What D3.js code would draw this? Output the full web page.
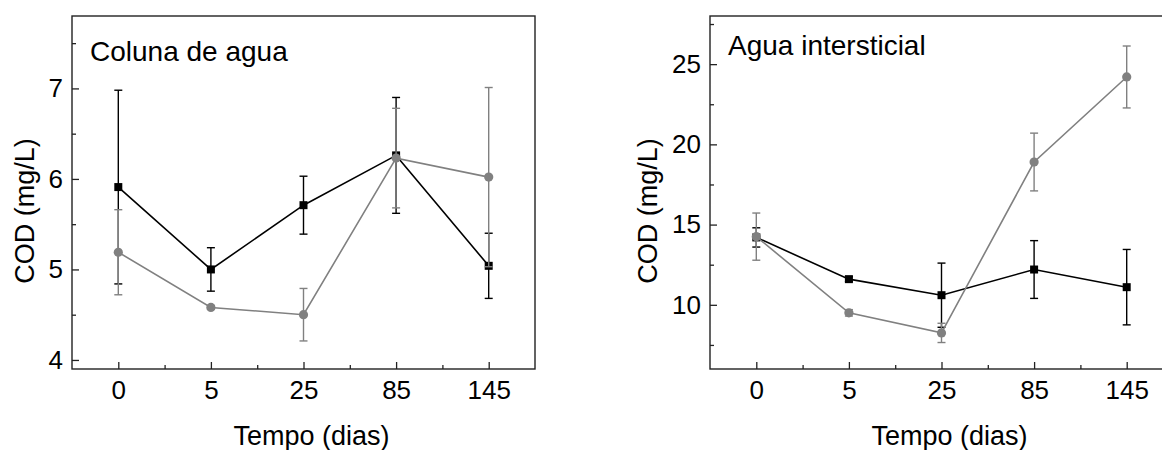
<!DOCTYPE html>
<html>
<head>
<meta charset="utf-8">
<script src="https://cdn.jsdelivr.net/npm/d3@7"></script>
<style>
  body { margin: 0; background: #fff; }
  svg { display: block; font-family: "Liberation Sans", Arial, sans-serif; }
</style>
</head>
<body>
<script>
// categories (days)
var days = ["0", "5", "25", "85", "145"];

// Coluna de agua
var colunaBlack    = [5.91, 5.00, 5.71, 6.26, 5.04];
var colunaBlackErr = [1.07, 0.24, 0.32, 0.64, 0.36];
var colunaGray     = [5.19, 4.58, 4.50, 6.23, 6.02];
var colunaGrayErr  = [0.47, 0.02, 0.29, 0.55, 0.99];

// Agua intersticial
var interBlack    = [14.2, 11.6, 10.6, 12.2, 11.1];
var interBlackErr = [0.6, 0.15, 2.0, 1.8, 2.35];
var interGray     = [14.25, 9.5, 8.25, 18.9, 24.2];
var interGrayErr  = [1.47, 0.2, 0.6, 1.8, 1.93];

// y ticks
var colunaTicks = [4, 5, 6, 7];
var colunaMinor = [4.5, 5.5, 6.5, 7.5];
var interTicks  = [10, 15, 20, 25];
var interMinor  = [7.5, 12.5, 17.5, 22.5, 27.5];

var W = 1162, H = 450;
var GRAY = "#808080";

var svg = d3.select("body").append("svg")
    .attr("width", W)
    .attr("height", H);

function panel(opt) {
    var g = svg.append("g");

    var x = d3.scaleLinear().domain([0.5, 5.5]).range([opt.left, opt.left + 463]);
    var y = d3.scaleLinear().domain(opt.ydom).range([369, 16]);
    var idx = d3.range(1, days.length + 1);

    // frame
    g.append("rect")
        .attr("x", x(0.5)).attr("y", y(opt.ydom[1]))
        .attr("width", x(5.5) - x(0.5)).attr("height", y(opt.ydom[0]) - y(opt.ydom[1]))
        .attr("fill", "none").attr("stroke", "#222").attr("stroke-width", 1.4);

    // axes, ticks pointing inwards
    g.append("g").attr("transform", "translate(0," + y(opt.ydom[0]) + ")")
        .call(d3.axisBottom(x).tickValues(idx).tickSize(-7).tickPadding(12)
            .tickFormat(function(d) { return days[d - 1]; }));
    g.append("g").attr("transform", "translate(0," + y(opt.ydom[0]) + ")")
        .call(d3.axisBottom(x).tickValues([1.5, 2.5, 3.5, 4.5]).tickSize(-4).tickFormat(""));
    g.append("g").attr("transform", "translate(" + x(0.5) + ",0)")
        .call(d3.axisLeft(y).tickValues(opt.ticks).tickSize(-7).tickPadding(9)
            .tickFormat(d3.format("d")));
    g.append("g").attr("transform", "translate(" + x(0.5) + ",0)")
        .call(d3.axisLeft(y).tickValues(opt.minor).tickSize(-4).tickFormat(""));

    g.selectAll(".domain").remove();
    g.selectAll(".tick line").attr("stroke", "#222").attr("stroke-width", 1.3);
    g.selectAll(".tick text").attr("fill", "#000").style("font-size", "26px");

    // axis titles
    g.append("text")
        .attr("x", x(3) + 8).attr("y", 445)
        .attr("text-anchor", "middle")
        .style("font-size", "27px")
        .text("Tempo (dias)");
    g.append("text")
        .attr("transform", "translate(" + opt.ylabX + ",211) rotate(-90)")
        .attr("text-anchor", "middle")
        .style("font-size", "27px")
        .text("COD (mg/L)");

    // panel title
    g.append("text")
        .attr("x", opt.left + opt.titleDx).attr("y", opt.titleY)
        .style("font-size", "28px")
        .text(opt.title);

    var line = d3.line()
        .x(function(d, i) { return x(i + 1); })
        .y(function(d) { return y(d); });

    function series(vals, errs, color, shape) {
        var s = g.append("g");
        s.append("path").datum(vals)
            .attr("d", line)
            .attr("fill", "none").attr("stroke", color).attr("stroke-width", 1.6);

        var eb = s.selectAll(".eb").data(vals).enter().append("g");
        eb.append("line")
            .attr("x1", function(d, i) { return x(i + 1); })
            .attr("x2", function(d, i) { return x(i + 1); })
            .attr("y1", function(d, i) { return y(d - errs[i]); })
            .attr("y2", function(d, i) { return y(d + errs[i]); })
            .attr("stroke", color).attr("stroke-width", 1.4);
        [-1, 1].forEach(function(sg) {
            eb.append("line")
                .attr("x1", function(d, i) { return x(i + 1) - 4; })
                .attr("x2", function(d, i) { return x(i + 1) + 4; })
                .attr("y1", function(d, i) { return y(d + sg * errs[i]); })
                .attr("y2", function(d, i) { return y(d + sg * errs[i]); })
                .attr("stroke", color).attr("stroke-width", 1.4);
        });

        if (shape == "square") {
            s.selectAll(".mk").data(vals).enter().append("rect")
                .attr("x", function(d, i) { return x(i + 1) - 4; })
                .attr("y", function(d) { return y(d) - 4; })
                .attr("width", 8).attr("height", 8)
                .attr("fill", color);
        } else {
            s.selectAll(".mk").data(vals).enter().append("circle")
                .attr("cx", function(d, i) { return x(i + 1); })
                .attr("cy", function(d) { return y(d); })
                .attr("r", 4.6)
                .attr("fill", color);
        }
    }

    series(opt.black, opt.blackErr, "#000", "square");
    series(opt.gray, opt.grayErr, GRAY, "circle");
}

panel({
    left: 72, ydom: [3.9, 7.8], ticks: colunaTicks, minor: colunaMinor,
    black: colunaBlack, blackErr: colunaBlackErr,
    gray: colunaGray, grayErr: colunaGrayErr,
    title: "Coluna de agua", titleDx: 18, titleY: 61,
    ylabX: 34
});

panel({
    left: 710, ydom: [6, 28], ticks: interTicks, minor: interMinor,
    black: interBlack, blackErr: interBlackErr,
    gray: interGray, grayErr: interGrayErr,
    title: "Agua intersticial", titleDx: 18, titleY: 55,
    ylabX: 657
});
</script>
</body>
</html>
